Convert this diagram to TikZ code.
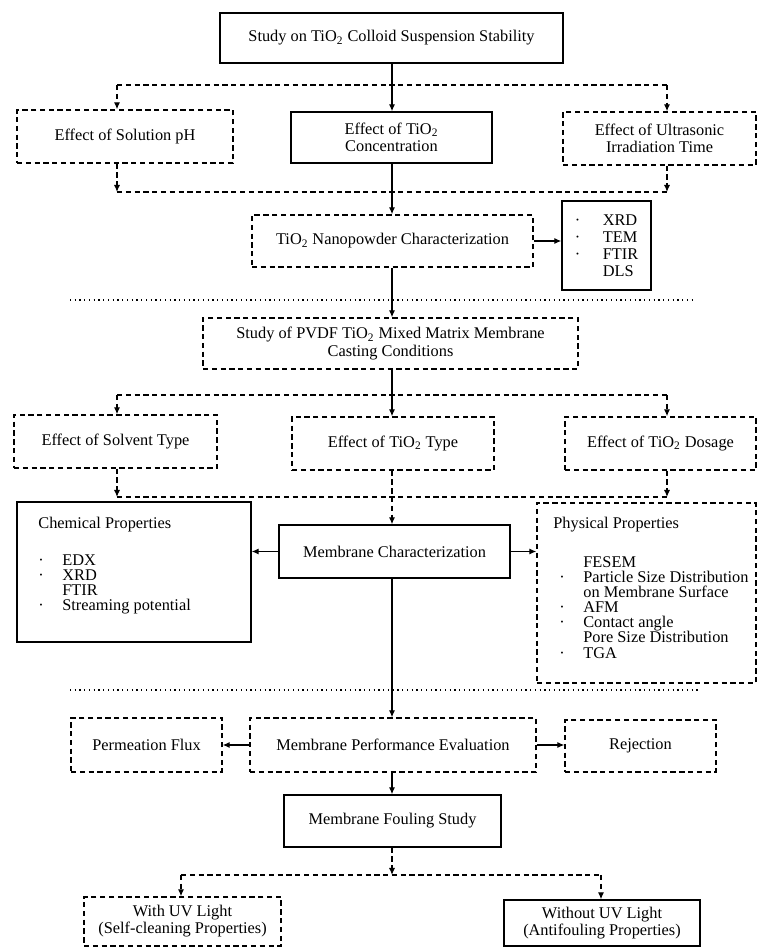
\documentclass[tikz,border=0pt]{standalone}
\usepackage{fontspec}
\setmainfont{Liberation Serif}
\usetikzlibrary{arrows.meta}

\newcommand{\tio}{TiO\textsubscript{2}}
\newcommand{\bul}[1][0.48cm]{\makebox[#1][l]{\textperiodcentered}}

\begin{document}
\begin{tikzpicture}[x=2cm, y=2cm, >={Latex[length=4pt,width=3.5pt]},
    every node/.style={font=\fontsize{9.3}{9.7}\selectfont},
    solidbox/.style={draw, line width=0.8pt, align=center, inner sep=2pt},
    dashbox/.style={solidbox, densely dashed},
    trunk/.style={line width=0.7pt},
    branch/.style={line width=0.7pt, densely dashed},
    sepline/.style={line width=0.7pt, dotted},
    listtext/.style={anchor=north west, align=left, inner sep=0pt, font=\fontsize{9.3}{8.6}\selectfont}]
  \useasboundingbox (0,0) rectangle (7.57,9.48);

  % suspension stability
  \node[solidbox, minimum width=6.86cm, minimum height=1.0cm] (susp) at (3.915,9.10) {Study on \tio{} Colloid Suspension Stability};
  \node[dashbox, minimum width=4.32cm, minimum height=1.06cm] (ph) at (1.25,8.115) {Effect of Solution pH};
  \node[solidbox, minimum width=4.02cm, minimum height=1.02cm] (conc) at (3.915,8.105) {Effect of \tio{}\\Concentration};
  \node[dashbox, minimum width=3.86cm, minimum height=1.06cm] (ultra) at (6.595,8.095) {Effect of Ultrasonic\\Irradiation Time};

  \node[dashbox, minimum width=5.62cm, minimum height=1.04cm] (nano) at (3.925,7.07) {\tio{} Nanopowder Characterization};
  \node[solidbox, align=left, minimum width=1.78cm, minimum height=1.78cm] (techs) at (6.065,7.025)
    {\bul[0.56cm]XRD\\ \bul[0.56cm]TEM\\ \bul[0.56cm]FTIR\\ \hspace*{0.56cm}DLS};

  \coordinate (j1) at (3.92,8.63);
  \coordinate (l1) at (1.17,8.63);
  \coordinate (r1) at (6.67,8.63);
  \draw[trunk] (susp.south -| j1) -- (j1);
  \draw[branch] (l1) -- (r1);
  \draw[branch,->] (l1) -- (l1 |- ph.north);
  \draw[trunk,->] (j1) -- (j1 |- conc.north);
  \draw[branch,->] (r1) -- (r1 |- ultra.north);

  \coordinate (l2) at (1.17,7.56);
  \coordinate (r2) at (6.67,7.56);
  \draw[branch,->] (l2 |- ph.south) -- (l2);
  \draw[branch,->] (r2 |- ultra.south) -- (r2);
  \draw[branch] (l2) -- (r2);
  \draw[trunk,->] (conc.south -| j1) -- (j1 |- nano.north);
  \draw[trunk,->] (nano.east) -- (nano.east -| techs.west);

  \draw[sepline] (0.70,6.48) -- (6.95,6.48);

  % membrane casting
  \node[dashbox, minimum width=7.5cm, minimum height=1.02cm] (pvdf) at (3.905,6.045) {Study of PVDF \tio{} Mixed Matrix Membrane\\Casting Conditions};
  \draw[trunk,->] (nano.south -| j1) -- (j1 |- pvdf.north);

  \node[dashbox, minimum width=4.06cm, minimum height=1.06cm] (solvent) at (1.155,5.065) {Effect of Solvent Type};
  \node[dashbox, minimum width=4.04cm, minimum height=1.06cm] (ttype) at (3.93,5.045) {Effect of \tio{} Type};
  \node[dashbox, minimum width=3.82cm, minimum height=1.06cm] (dosage) at (6.605,5.045) {Effect of \tio{} Dosage};

  \coordinate (j3) at (3.92,5.53);
  \coordinate (l3) at (1.17,5.53);
  \coordinate (r3) at (6.67,5.53);
  \draw[trunk] (pvdf.south -| j3) -- (j3);
  \draw[branch] (l3) -- (r3);
  \draw[branch,->] (l3) -- (l3 |- solvent.north);
  \draw[trunk,->] (j3) -- (j3 |- ttype.north);
  \draw[branch,->] (r3) -- (r3 |- dosage.north);

  % characterization
  \node[solidbox, minimum width=4.68cm, minimum height=2.8cm] (chem) at (1.34,3.76) {};
  \node[listtext] (chemtext) at (0.38,4.31)
    {Chemical Properties\\[12.4pt] \bul EDX\\ \bul XRD\\ \hspace*{0.48cm}FTIR\\ \bul Streaming potential};
  \node[solidbox, minimum width=4.62cm, minimum height=1.06cm] (mc) at (3.945,3.965) {Membrane Characterization};
  \node[dashbox, minimum width=4.38cm, minimum height=3.6cm] (phys) at (6.465,3.55) {};
  \node[listtext] (phystext) at (5.53,4.31)
    {Physical Properties\\[13.4pt]
     \hspace*{0.6cm}FESEM\\
     \hspace*{0.12cm}\bul Particle Size Distribution\\
     \hspace*{0.6cm}on Membrane Surface\\
     \hspace*{0.12cm}\bul AFM\\
     \hspace*{0.12cm}\bul Contact angle\\
     \hspace*{0.6cm}Pore Size Distribution\\
     \hspace*{0.12cm}\bul TGA};

  \coordinate (l4) at (1.17,4.51);
  \coordinate (r4) at (6.67,4.51);
  \draw[branch,->] (l4 |- solvent.south) -- (l4);
  \draw[branch,->] (r4 |- dosage.south) -- (r4);
  \draw[branch] (l4) -- (r4);
  \draw[branch,->] (ttype.south -| j3) -- (j3 |- mc.north);
  \draw[trunk,->] (mc.west) -- (mc.west -| chem.east);
  \draw[trunk,->] (mc.east) -- (mc.east -| phys.west);

  \draw[sepline] (0.70,2.58) -- (7.00,2.58);

  % performance and fouling
  \node[dashbox, minimum width=3.02cm, minimum height=1.08cm] (perm) at (1.465,2.03) {Permeation Flux};
  \node[dashbox, minimum width=5.72cm, minimum height=1.08cm] (perf) at (3.93,2.03) {Membrane Performance Evaluation};
  \node[dashbox, minimum width=3.02cm, minimum height=1.04cm] (rej) at (6.405,2.02) {Rejection};
  \draw[trunk,->] (mc.south -| j3) -- (j3 |- perf.north);
  \draw[trunk,->] (perf.west) -- (perf.west -| perm.east);
  \draw[trunk,->] (perf.east) -- (perf.east -| rej.west);

  \node[solidbox, minimum width=4.34cm, minimum height=1.04cm] (foul) at (3.925,1.27) {Membrane Fouling Study};
  \draw[trunk,->] (perf.south -| j3) -- (j3 |- foul.north);

  \node[dashbox, minimum width=3.94cm, minimum height=0.98cm] (withuv) at (1.825,0.265) {With UV Light\\(Self-cleaning Properties)};
  \node[solidbox, minimum width=3.92cm, minimum height=0.92cm] (woutuv) at (6.02,0.25) {Without UV Light\\(Antifouling Properties)};

  \coordinate (j5) at (3.92,0.73);
  \coordinate (l5) at (1.81,0.73);
  \coordinate (r5) at (6.01,0.73);
  \draw[branch,->] (foul.south -| j5) -- (j5);
  \draw[branch] (l5) -- (r5);
  \draw[branch,->] (l5) -- (l5 |- withuv.north);
  \draw[branch,->] (r5) -- (r5 |- woutuv.north);
\end{tikzpicture}
\end{document}
